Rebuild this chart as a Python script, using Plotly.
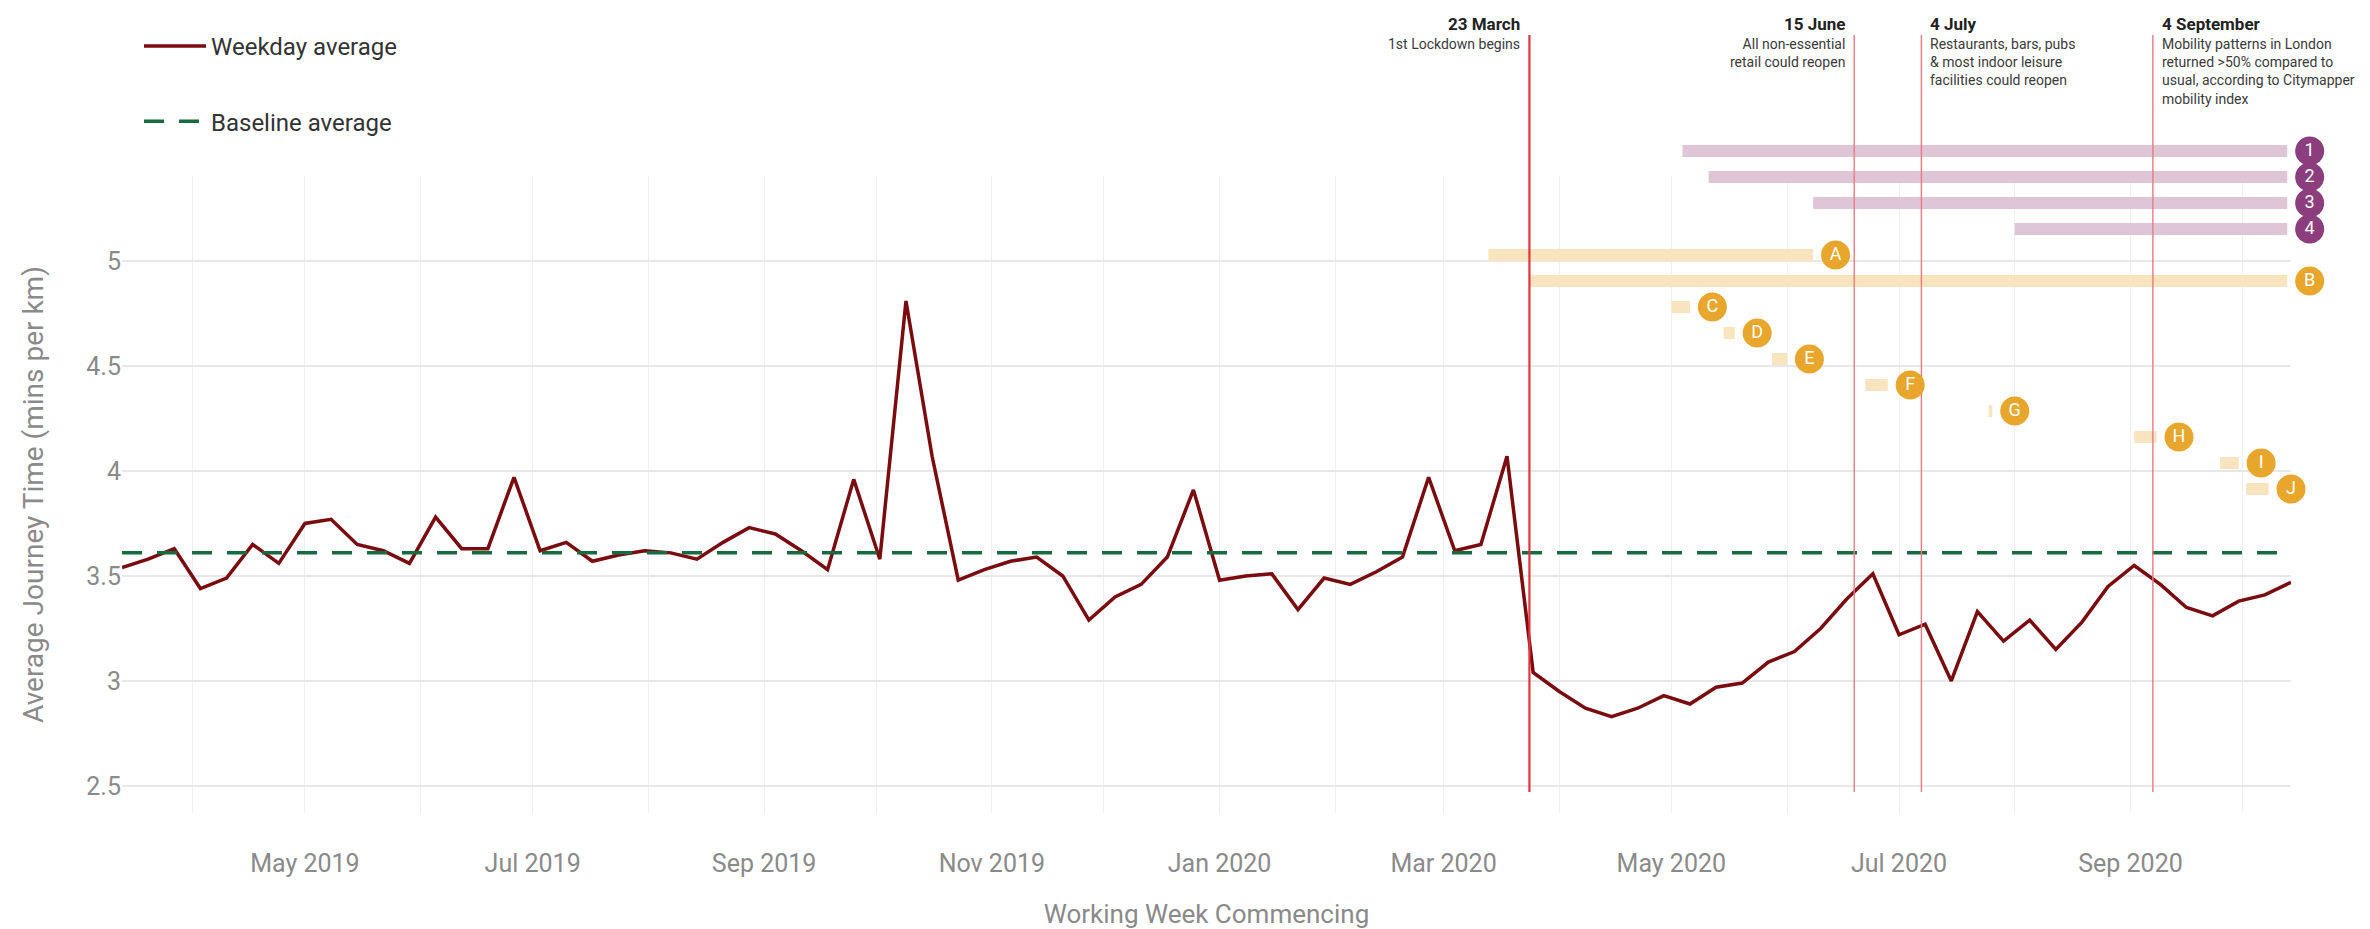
import pandas as pd
import plotly.graph_objects as go

# ---------------- data ----------------
week_commencing = pd.date_range("2019-03-13", periods=84, freq="7D")
weekday_average = [
    3.54, 3.58, 3.63, 3.44, 3.49, 3.65, 3.56, 3.75, 3.77, 3.65,
    3.62, 3.56, 3.78, 3.63, 3.63, 3.97, 3.62, 3.66, 3.57, 3.60,
    3.62, 3.61, 3.58, 3.66, 3.73, 3.70, 3.62, 3.53, 3.96, 3.58,
    4.81, 4.07, 3.48, 3.53, 3.57, 3.59, 3.50, 3.29, 3.40, 3.46,
    3.59, 3.91, 3.48, 3.50, 3.51, 3.34, 3.49, 3.46, 3.52, 3.59,
    3.97, 3.62, 3.65, 4.07, 3.04, 2.95, 2.87, 2.83, 2.87, 2.93,
    2.89, 2.97, 2.99, 3.09, 3.14, 3.25, 3.39, 3.51, 3.22, 3.27,
    3.00, 3.33, 3.19, 3.29, 3.15, 3.28, 3.45, 3.55, 3.46, 3.35,
    3.31, 3.38, 3.41, 3.47,
]
baseline_average = 3.61

event_dates = ["2020-03-24", "2020-06-19", "2020-07-07", "2020-09-07"]
event_titles = ["23 March", "15 June", "4 July", "4 September"]
event_notes = [
    "1st Lockdown begins",
    "All non-essential<br>retail could reopen",
    "Restaurants, bars, pubs<br>& most indoor leisure<br>facilities could reopen",
    "Mobility patterns in London<br>returned &gt;50% compared to<br>usual, according to Citymapper<br>mobility index",
]
event_text_side = ["left", "left", "right", "right"]

measure_labels = ["1", "2", "3", "4", "A", "B", "C", "D", "E", "F", "G", "H", "I", "J"]
measure_start = ["2020-05-04", "2020-05-11", "2020-06-08", "2020-08-01",
                 "2020-03-13", "2020-03-24", "2020-05-01", "2020-05-15",
                 "2020-05-28", "2020-06-22", "2020-07-25", "2020-09-02",
                 "2020-09-25", "2020-10-02"]
measure_end = ["2020-10-13", "2020-10-13", "2020-10-13", "2020-10-13",
               "2020-06-08", "2020-10-13", "2020-05-06", "2020-05-18",
               "2020-06-01", "2020-06-28", "2020-07-26", "2020-09-08",
               "2020-09-30", "2020-10-08"]
measure_group = ["purple"] * 4 + ["yellow"] * 10

# ---------------- layout constants ----------------
W, H = 2370, 929
M_L, M_R, M_T, M_B = 122, 20, 20, 116
MAIN_RIGHT_PX = 2291          # right edge of the main plot area
MAIN_TOP_PX = 176             # top edge of the main plot area
REGION_W = W - M_L - M_R
REGION_H = H - M_T - M_B
PLOT_BOTTOM = H - M_B
X_FRAC = (MAIN_RIGHT_PX - M_L) / REGION_W
Y_FRAC = (PLOT_BOTTOM - MAIN_TOP_PX) / REGION_H
Y_RANGE = [2.371, 5.405]
FONT = "Roboto"
GREY = "#8a8a8a"

x0, x1 = week_commencing[0], week_commencing[-1]
X2_RANGE = [x0, x0 + (x1 - x0) / X_FRAC]
Y2_RANGE = [Y_RANGE[0], Y_RANGE[0] + (Y_RANGE[1] - Y_RANGE[0]) / Y_FRAC]


def paper_x(px):
    return (px - M_L) / REGION_W


def paper_y(px):
    return (PLOT_BOTTOM - px) / REGION_H


def data_y(px):
    """value on the (shared-scale) y scale at a given pixel height"""
    return Y2_RANGE[0] + paper_y(px) * (Y2_RANGE[1] - Y2_RANGE[0])


ROW0, ROW_STEP, BAR_HALF = 151, 26, 6
bar_fill = {"purple": "#dfc6d7", "yellow": "#f8e5c0"}
dot_fill = {"purple": "#8c3d7d", "yellow": "#e8a62c"}

fig = go.Figure()

fig.add_trace(go.Scatter(
    x=week_commencing, y=weekday_average, mode="lines", name="Weekday average",
    line=dict(color="#7a0b0e", width=3.5), legendgroup="a",
))
fig.add_trace(go.Scatter(
    x=[week_commencing[0], week_commencing[-1]], y=[baseline_average] * 2,
    mode="lines", name="Baseline average", legendgroup="b",
    line=dict(color="#176b3f", width=3.5, dash="20px,15px"),
))

shapes = []
annotations = []
circle_x, circle_y, circle_c = [], [], []
for i, (lab, s, e, g) in enumerate(zip(measure_labels, measure_start, measure_end, measure_group)):
    cy = ROW0 + ROW_STEP * i
    shapes.append(dict(type="rect", xref="x2", yref="y2", x0=s, x1=e,
                       y0=data_y(cy + BAR_HALF), y1=data_y(cy - BAR_HALF),
                       fillcolor=bar_fill[g], line=dict(width=0), layer="between"))
    circle_x.append(pd.Timestamp(e) + pd.Timedelta(days=6))
    circle_y.append(data_y(cy))
    circle_c.append(dot_fill[g])

fig.add_trace(go.Scatter(
    x=circle_x, y=circle_y, xaxis="x2", yaxis="y2",
    mode="markers+text", text=measure_labels,
    marker=dict(size=29, color=circle_c, line=dict(width=0)),
    textposition="middle center",
    textfont=dict(family=FONT, size=18, color="white"),
    cliponaxis=False, showlegend=False, hoverinfo="skip",
))

for i, (d, t, n, side) in enumerate(zip(event_dates, event_titles, event_notes, event_text_side)):
    first = i == 0
    shapes.append(dict(type="line", xref="x2", yref="y2", x0=d, x1=d,
                       y0=data_y(792), y1=data_y(35),
                       line=dict(color="#e3343f" if first else "#ef7880",
                                 width=2.2 if first else 1.4),
                       layer="between"))
    if side == "left":
        anc, shift, al = "right", -7, "right"
    else:
        anc, shift, al = "left", 7, "left"
    annotations.append(dict(x=d, xref="x2", y=paper_y(24), yref="paper",
                            text="<b>%s</b>" % t, showarrow=False,
                            xanchor=anc, yanchor="middle", xshift=shift, align=al,
                            font=dict(family=FONT, size=17, color="#222222")))
    annotations.append(dict(x=d, xref="x2", y=paper_y(34), yref="paper",
                            text=n, showarrow=False,
                            xanchor=anc, yanchor="top", xshift=shift, align=al,
                            font=dict(family=FONT, size=14, color="#3a3a3a")))

fig.update_layout(
    width=W, height=H,
    margin=dict(l=M_L, r=M_R, t=M_T, b=M_B, autoexpand=False),
    paper_bgcolor="white", plot_bgcolor="rgba(0,0,0,0)",
    font=dict(family=FONT, color=GREY),
    shapes=shapes, annotations=annotations,
    showlegend=True,
    legend=dict(x=paper_x(139), y=paper_y(24), xanchor="left", yanchor="top",
                font=dict(family=FONT, size=24, color="#333333"),
                itemwidth=62, tracegroupgap=41, bgcolor="rgba(0,0,0,0)"),
    xaxis=dict(
        domain=[0, X_FRAC], anchor="y",
        range=[x0, x1],
        tickformat="%b %Y", tick0="2019-05-01", dtick="M2",
        showgrid=True, gridcolor="#f0f0f0", gridwidth=1.2,
        minor=dict(dtick="M1", showgrid=True, gridcolor="#f0f0f0", gridwidth=1.2),
        ticks="outside", ticklen=28, tickcolor="rgba(0,0,0,0)",
        tickfont=dict(family=FONT, size=25, color=GREY),
        showline=False, zeroline=False,
        title=dict(text="Working Week Commencing", standoff=42,
                   font=dict(family=FONT, size=26, color=GREY)),
    ),
    yaxis=dict(
        domain=[0, Y_FRAC], anchor="x",
        range=Y_RANGE, tick0=2.5, dtick=0.5,
        showgrid=True, gridcolor="#e8e8e8", gridwidth=1.5,
        tickfont=dict(family=FONT, size=25, color=GREY),
        showline=False, zeroline=False,
        title=dict(text="Average Journey Time (mins per km)", standoff=34,
                   font=dict(family=FONT, size=28, color=GREY)),
    ),
    xaxis2=dict(domain=[0, 1], anchor="y2", type="date", range=X2_RANGE,
                visible=False, fixedrange=True),
    yaxis2=dict(domain=[0, 1], anchor="x2", range=Y2_RANGE,
                visible=False, fixedrange=True),
)

fig.write_html("out.html", config={"displayModeBar": False},
               post_script="document.body.style.margin='0';")
